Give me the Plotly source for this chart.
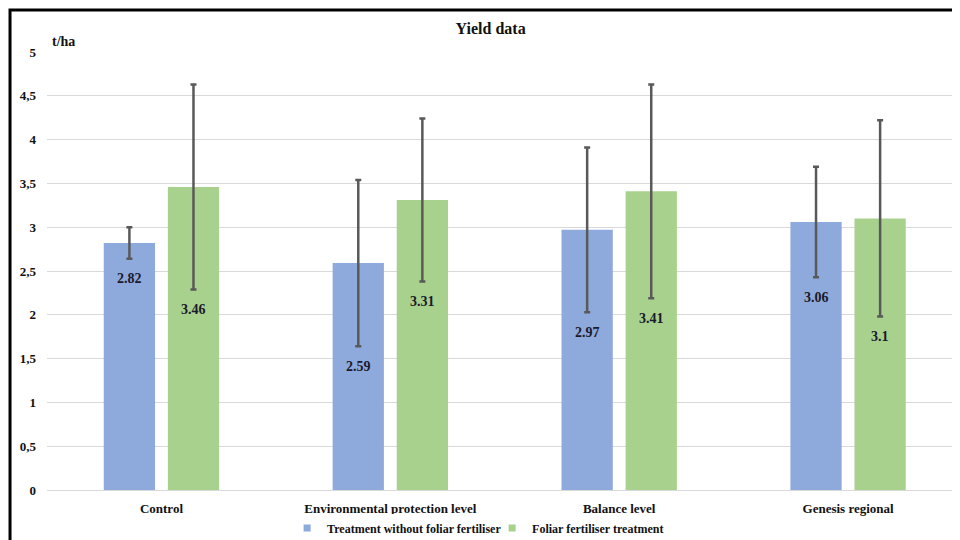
import plotly.graph_objects as go

categories = ["Control", "Environmental protection level", "Balance level", "Genesis regional"]
series_names = ["Treatment without foliar fertiliser", "Foliar fertiliser treatment"]
blue_vals = [2.82, 2.59, 2.97, 3.06]
green_vals = [3.46, 3.31, 3.41, 3.10]
blue_err = [0.18, 0.95, 0.94, 0.63]
green_err = [1.17, 0.93, 1.22, 1.12]
y_tickvals = [0, 0.5, 1, 1.5, 2, 2.5, 3, 3.5, 4, 4.5, 5]
y_ticktext = ["0", "0,5", "1", "1,5", "2", "2,5", "3", "3,5", "4", "4,5", "5"]

BLUE = "#8EA9DB"
GREEN = "#A9D18E"
ERR = "#595959"
FONT = "Liberation Serif"
TXT = "#111111"

fig = go.Figure()
for name, vals, errs, col in [(series_names[0], blue_vals, blue_err, BLUE),
                              (series_names[1], green_vals, green_err, GREEN)]:
    fig.add_trace(go.Bar(
        x=categories, y=vals, name=name, showlegend=False,
        marker=dict(color=col, line=dict(width=0)),
        error_y=dict(type="data", array=errs, visible=True, color=ERR, thickness=2.5, width=3),
    ))
# legend entries with small square swatches
for name, col, lw in [(series_names[0], BLUE, 160), (series_names[1], GREEN, None)]:
    fig.add_trace(go.Scatter(x=[None], y=[None], mode="markers", name=name, legendwidth=lw,
                             marker=dict(symbol="square", size=7, color=col)))

ann = []
for vals, errs, shift in [(blue_vals, blue_err, -32), (green_vals, green_err, 32)]:
    for c, v, e in zip(categories, vals, errs):
        ann.append(dict(x=c, y=v - e, xref="x", yref="y", text=f"{v:g}",
                        showarrow=False, xshift=shift, yshift=-20,
                        font=dict(family=FONT, size=14, color="#1a1a2a", weight="bold")))
ann.append(dict(x=0.0038, y=1.0457, xref="paper", yref="paper", text="t/ha",
                showarrow=False, font=dict(family=FONT, size=14, color=TXT, weight="bold")))

fig.update_layout(
    width=952, height=532,
    margin=dict(l=39, r=0, t=44, b=50, autoexpand=False),
    paper_bgcolor="white", plot_bgcolor="white",
    barmode="group", bargap=0.44, bargroupgap=0.2,
    title=dict(text="Yield data", xref="container", x=0.507, y=0.962,
               xanchor="center", yanchor="middle",
               font=dict(family=FONT, size=16, color=TXT, weight="bold")),
    font=dict(family=FONT, color=TXT),
    xaxis=dict(range=[-0.5, 3.489], showgrid=False, showline=False, zeroline=False,
               tickfont=dict(family=FONT, size=13, color=TXT, weight="bold"),
               ticklabelstandoff=9),
    yaxis=dict(range=[0, 5], tickvals=y_tickvals, ticktext=y_ticktext,
               showgrid=True, gridcolor="#D9D9D9", gridwidth=1,
               zeroline=True, zerolinecolor="#D9D9D9", zerolinewidth=1,
               showline=False, ticklabelstandoff=10,
               tickfont=dict(family=FONT, size=13, color=TXT, weight="bold")),
    legend=dict(orientation="h", x=0.263, xanchor="left", y=-0.087, yanchor="middle",
                font=dict(family=FONT, size=12, color=TXT, weight="bold"),
                itemwidth=30, traceorder="normal"),
    annotations=ann,
    shapes=[
        dict(type="rect", xref="paper", yref="paper", x0=-0.0405, x1=1.2, y0=-0.3, y1=1.0959,
             line=dict(color="black", width=3), fillcolor="rgba(0,0,0,0)", layer="below"),
    ],
)
fig.write_html("out.html", config={"displayModeBar": False},
               post_script="document.documentElement.style.overflow='hidden';"
                           "document.body.style.overflow='hidden';")
